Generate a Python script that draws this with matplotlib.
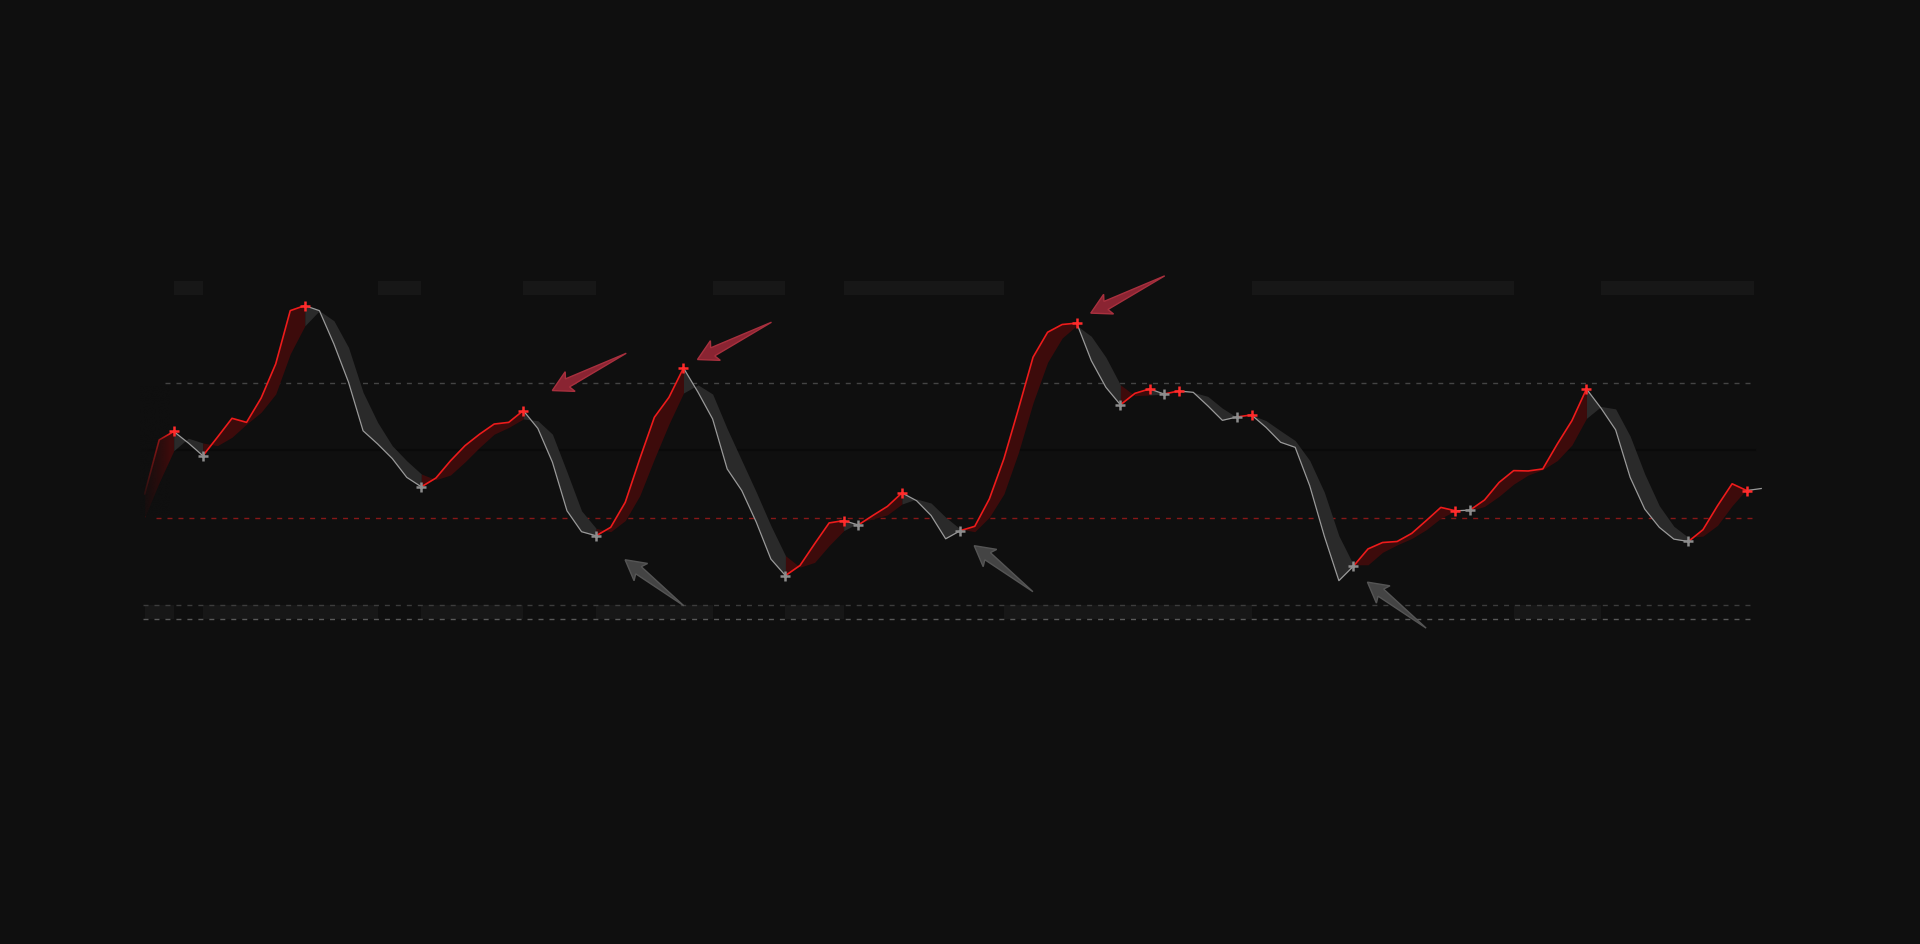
import numpy as np
import matplotlib
matplotlib.use('Agg')
from matplotlib import pyplot as plt
from matplotlib.patches import Polygon
from matplotlib.transforms import IdentityTransform

# oscillator line and its lagging signal, one value per bar
line = [37.0, 53.0, 55.5, 52.1, 48.3, 53.8, 59.4, 58.2, 65.4, 75.5,
        91.3, 92.8, 91.3, 81.4, 70.1, 55.7, 51.8, 47.5, 41.9, 39.1,
        41.7, 46.8, 51.3, 54.7, 57.7, 58.2, 61.7, 56.4, 46.4, 32.0,
        25.8, 24.6, 27.1, 34.5, 47.4, 59.7, 65.6, 74.3, 67.1, 59.2,
        44.4, 38.0, 28.6, 17.7, 12.8, 15.8, 22.2, 28.4, 29.1, 27.8,
        30.6, 33.3, 37.3, 35.0, 30.6, 23.7, 26.1, 27.4, 35.5, 47.4,
        62.2, 77.5, 84.9, 87.2, 87.6, 76.5, 68.6, 63.4, 66.8, 68.1,
        66.6, 67.5, 67.1, 63.1, 58.8, 59.8, 60.4, 56.7, 52.3, 50.8,
        39.4, 24.5, 11.3, 15.6, 20.7, 22.6, 22.9, 25.3, 29.1, 33.0,
        32.0, 32.2, 35.2, 40.4, 43.9, 43.8, 44.4, 51.8, 58.7, 68.1,
        62.4, 56.0, 41.9, 32.5, 27.1, 23.6, 22.9, 26.4, 33.5, 40.0,
        38.0, 38.6]
signal = [30.0, 40.4, 49.8, 53.5, 52.1, 51.3, 53.8, 57.7, 61.2, 66.6,
          78.5, 86.8, 91.3, 88.3, 80.4, 67.1, 58.2, 51.3, 46.8, 42.9,
          41.2, 42.6, 46.5, 50.8, 54.7, 56.7, 59.2, 58.7, 54.7, 43.5,
          32.0, 26.8, 25.8, 29.1, 36.5, 47.4, 57.7, 66.9, 69.3, 66.6,
          56.3, 46.9, 37.5, 27.6, 18.7, 15.3, 16.7, 21.7, 26.1, 28.4,
          29.6, 30.8, 34.0, 35.5, 34.3, 30.1, 26.6, 25.8, 30.1, 37.0,
          49.3, 64.0, 76.0, 83.2, 86.9, 83.7, 77.5, 69.3, 66.1, 66.3,
          66.6, 67.3, 67.1, 65.9, 62.4, 59.7, 60.4, 58.7, 55.7, 52.8,
          46.9, 37.5, 24.6, 16.0, 16.0, 19.7, 21.9, 23.8, 26.4, 29.8,
          32.0, 32.0, 33.3, 36.3, 39.9, 42.6, 44.2, 46.9, 51.5, 59.4,
          62.9, 62.2, 54.1, 42.9, 33.5, 27.4, 24.1, 24.5, 27.7, 33.5,
          38.4, 38.7]

# crossover bars
red_idx = [2, 11, 26, 37, 48, 52, 64, 69, 71, 76, 90, 99, 110]
gray_idx = [4, 19, 31, 44, 49, 56, 67, 70, 75, 83, 91, 106]

# arrows point at these signals
red_arrow_idx = [26, 37, 64]
gray_arrow_idx = [31, 56, 83]

# regime strip (alternates low / high, starting low)
regime_breaks = [0, 2, 4, 16, 19, 26, 31, 39, 44, 48, 59, 76, 94, 100, 110.5]

upper_level, mid_level, lower_level = 70, 50, 30

BG = '#0f0f0f'
x = np.arange(len(line))
y = np.array(line)
s = np.array(signal)

fig = plt.figure(figsize=(19.2, 9.45), dpi=100, facecolor=BG)
ax = fig.add_axes([0, 0, 1, 1])
ax.set_facecolor(BG)
ax.set_xlim(-9.93, 121.9)
ax.set_ylim(-96.36, 183.64)
ax.axis('off')

# regime strips top and bottom
for k in range(len(regime_breaks) - 1):
    a, b = regime_breaks[k], regime_breaks[k + 1]
    bottom = 0 if k % 2 == 0 else 96
    ax.bar(a, 4, width=b - a, bottom=bottom, align='edge', color='#171717', lw=0, zorder=1)

# level lines
ax.plot([-0.1, 110.6], [mid_level, mid_level], color='#0a0a0a', lw=1.5, zorder=1)
ax.plot([1.4, 110.5], [upper_level, upper_level], color='#444444', lw=1, dashes=(3.6, 4.3), zorder=2)
ax.plot([0.75, 110.5], [lower_level, lower_level], color='#861818', lw=1, dashes=(3.6, 4.3), zorder=2)
ax.plot([-0.1, 110.6], [4, 4], color='#3c3c3c', lw=1, dashes=(3.6, 4.3), zorder=2)
ax.plot([-0.1, 110.6], [0, 0], color='#585858', lw=1, dashes=(3.6, 4.3), zorder=2)

# runs of bullish / bearish state between crossovers
events = sorted([(i, 'r') for i in red_idx] + [(i, 'g') for i in gray_idx])
bounds = [0] + [e[0] for e in events] + [len(y) - 1]
states = ['r' if events[0][1] == 'r' else 'g']
for e in events:
    states.append('g' if e[1] == 'r' else 'r')

for k in range(len(bounds) - 1):
    a, b = bounds[k], bounds[k + 1]
    if b <= a:
        continue
    seg = slice(a, b + 1)
    if states[k] == 'r':
        ax.fill_between(x[seg], y[seg], s[seg], color='#3d0b0b', lw=0, zorder=3)
        ax.plot(x[seg], y[seg], color='#ee1b1b', lw=1.2, zorder=4)
    else:
        ax.fill_between(x[seg], y[seg], s[seg], color='#2a2a2a', lw=0, zorder=3)
        ax.plot(x[seg], y[seg], color='#9a9a9a', lw=0.9, zorder=4)

# fade in at the left edge
grad = np.zeros((1, 64, 4))
grad[..., :3] = matplotlib.colors.to_rgb(BG)
grad[0, :, 3] = np.linspace(1, 0, 64) ** 0.8
ax.imshow(grad, extent=[-0.3, 1.7, 30.5, 69], aspect='auto', zorder=5, interpolation='bilinear')
ax.set_xlim(-9.93, 121.9)
ax.set_ylim(-96.36, 183.64)

# crossover markers
ax.plot(x[red_idx], y[red_idx], '+', color='#ff2b2b', ms=6.5, mew=1.8, zorder=7)
ax.plot(x[gray_idx], y[gray_idx], '+', color='#8c8c8c', ms=6.5, mew=1.8, zorder=7)


def draw_arrow(i, dx, dy, vec, fc, ec):
    tx, ty = ax.transData.transform((i, y[i]))
    tx, ty = tx + dx, ty - dy
    ux, uy = vec[0], -vec[1]
    L = np.hypot(ux, uy)
    ux, uy = ux / L, uy / L
    px, py = -uy, ux

    def pt(a, p):
        return (tx + ux * a + px * p, ty + uy * a + py * p)
    pts = [pt(0, 0), pt(20, 11), pt(17, 4.5), pt(L, 0), pt(17, -4.5), pt(20, -11)]
    ax.add_patch(Polygon(pts, closed=True, transform=IdentityTransform(),
                         fc=fc, ec=ec, lw=1, zorder=8))


red_offsets = [(29, -20), (14, -8.5), (14, -10)]
gray_offsets = [(29, 24), (14, 15), (14, 16)]
for i, (dx, dy) in zip(red_arrow_idx, red_offsets):
    draw_arrow(i, dx, dy, (74, -37.3), '#8a2432', '#a8303e')
for i, (dx, dy) in zip(gray_arrow_idx, gray_offsets):
    draw_arrow(i, dx, dy, (58.7, 46), '#444444', '#555555')

fig.savefig('out.png', dpi=100, facecolor=BG)
